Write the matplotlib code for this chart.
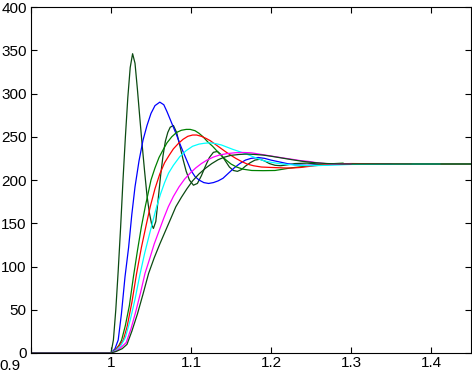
import matplotlib
matplotlib.use("Agg")
import matplotlib.pyplot as plt
from matplotlib.transforms import ScaledTranslation

# step responses (time, value)
t_dkgreen1 = [0.9, 1.000, 1.003, 1.006, 1.009, 1.012, 1.015, 1.018, 1.021, 1.024, 1.027,
              1.030, 1.033, 1.036, 1.039, 1.042, 1.045, 1.048, 1.051, 1.053, 1.056,
              1.059, 1.062, 1.065, 1.068, 1.071, 1.074, 1.078, 1.082, 1.086, 1.090,
              1.094, 1.098, 1.103, 1.108, 1.113, 1.118, 1.123, 1.128, 1.133, 1.138,
              1.143, 1.148, 1.153, 1.158, 1.163, 1.168, 1.174, 1.180, 1.186, 1.192,
              1.198, 1.205, 1.212, 1.220, 1.230, 1.245, 1.260, 1.450]
y_dkgreen1 = [0, 0, 15, 50, 95, 145, 200, 250, 295, 330, 346,
              335, 305, 272, 240, 210, 182, 162, 148, 144, 152,
              178, 205, 228, 245, 255, 261, 263, 255, 240, 224,
              210, 200, 194, 196, 205, 216, 226, 232, 233, 229,
              222, 215, 211, 210, 212, 216, 220, 223, 224, 222,
              219, 217, 216.5, 217.5, 219, 219.5, 218.5, 218.5]

t_blue = [0.9, 1.000, 1.005, 1.009, 1.013, 1.0175, 1.022, 1.026, 1.030, 1.035, 1.040,
          1.045, 1.050, 1.055, 1.061, 1.066, 1.070, 1.074, 1.078, 1.082, 1.086,
          1.090, 1.095, 1.100, 1.105, 1.110, 1.116, 1.122, 1.128, 1.134, 1.140,
          1.147, 1.154, 1.161, 1.168, 1.175, 1.184, 1.192, 1.200, 1.210, 1.220,
          1.230, 1.245, 1.260, 1.280, 1.350]
y_blue = [0, 0, 5, 15, 45, 88, 122, 160, 192, 222, 246,
          263, 277, 286, 290, 287, 279, 270, 261, 252, 242,
          233, 222, 211, 204, 200, 197, 196, 197, 199, 202,
          208, 214, 219, 223, 225, 226, 225, 223, 221, 219,
          217.5, 217, 217.5, 218, 218.5]

t_green = [0.9, 1.000, 1.005, 1.010, 1.0133, 1.018, 1.023, 1.028, 1.033, 1.038, 1.043,
           1.050, 1.055, 1.060, 1.064, 1.070, 1.076, 1.082, 1.088, 1.094, 1.099,
           1.105, 1.110, 1.115, 1.121, 1.127, 1.132, 1.138, 1.144, 1.150, 1.157,
           1.165, 1.176, 1.190, 1.205, 1.215, 1.225, 1.240, 1.255, 1.270, 1.290]
y_green = [0, 0, 3, 9, 15, 32, 55, 88, 118, 146, 170,
           200, 214, 226, 233, 243, 250, 255, 257.5, 258.5, 258.5,
           257, 254, 250, 244, 239, 234, 228, 223, 218.5, 215,
           212.5, 211, 210.8, 211, 212.5, 214, 215.5, 217, 218.5, 219.5]

t_red = [0.9, 1.000, 1.005, 1.010, 1.0154, 1.020, 1.026, 1.032, 1.038, 1.044, 1.049,
         1.055, 1.061, 1.067, 1.073, 1.078, 1.084, 1.090, 1.096, 1.102, 1.107,
         1.113, 1.119, 1.124, 1.130, 1.136, 1.142, 1.149, 1.156, 1.163, 1.170,
         1.178, 1.188, 1.200, 1.215, 1.225, 1.237, 1.250, 1.265, 1.280, 1.300, 1.375]
y_red = [0, 0, 3, 8, 15, 30, 58, 92, 122, 148, 169,
         190, 207, 220, 229, 236, 242, 247, 250.5, 252, 252,
         250.5, 248, 245.5, 241.5, 237.5, 233.5, 229, 225, 221.5, 218.5,
         216.5, 215, 214.5, 214, 213.8, 214.5, 216, 217.5, 218.5, 219, 218.5]

t_cyan = [0.9, 1.000, 1.006, 1.012, 1.018, 1.024, 1.030, 1.036, 1.042, 1.048, 1.053,
          1.057, 1.062, 1.067, 1.072, 1.078, 1.086, 1.094, 1.102, 1.110, 1.117,
          1.124, 1.131, 1.138, 1.145, 1.152, 1.160, 1.168, 1.176, 1.184, 1.192,
          1.200, 1.210, 1.220, 1.235, 1.250, 1.270, 1.300, 1.411]
y_cyan = [0, 0, 3, 8, 18, 38, 62, 90, 115, 137, 155,
          169, 184, 197, 208, 217, 227, 234, 239, 241.5, 242.5,
          243, 242, 240.5, 238, 235.5, 233, 230.5, 227.5, 224.5, 222,
          220.5, 219, 218, 217, 216.5, 217, 218, 218.5]

t_magenta = [0.9, 1.000, 1.006, 1.012, 1.019, 1.025, 1.031, 1.037, 1.0425, 1.048, 1.054,
             1.060, 1.066, 1.0716, 1.078, 1.085, 1.092, 1.099, 1.106, 1.113, 1.120,
             1.128, 1.136, 1.145, 1.155, 1.165, 1.175, 1.185, 1.195, 1.205, 1.215,
             1.226, 1.236, 1.247, 1.257, 1.268, 1.285, 1.300]
y_magenta = [0, 0, 2, 6, 12, 28, 48, 70, 92, 108, 126,
             141, 156, 169, 181, 192, 201, 208, 214, 219, 223,
             226.5, 229, 230.5, 231.5, 231.8, 231.5, 230, 228.5, 227, 225.5,
             224, 222.5, 221.5, 220, 219, 218.5, 218.5]

t_dkgreen2 = [0.9, 1.000, 1.007, 1.014, 1.020, 1.026, 1.033, 1.040, 1.047, 1.054, 1.061,
              1.068, 1.075, 1.081, 1.088, 1.095, 1.102, 1.110, 1.118, 1.126, 1.134,
              1.142, 1.150, 1.160, 1.170, 1.180, 1.190, 1.200, 1.213, 1.226, 1.240,
              1.255, 1.270, 1.290, 1.450]
y_dkgreen2 = [0, 0, 2, 5, 10, 25, 45, 68, 92, 110, 126,
              141, 156, 169, 180, 190, 199, 207, 213.5, 219, 223.5,
              226.5, 228.5, 229.5, 230, 229.5, 228.8, 227.5, 225.5, 223.5, 221.5,
              220, 219, 218.5, 218.5]

plt.rcParams['font.family'] = ['Liberation Sans', 'DejaVu Sans']

fig = plt.figure(figsize=(4.72, 3.72), dpi=100)
ax = fig.add_axes([31 / 472, 19 / 372, 440 / 472, 346 / 372])

ax.plot(t_dkgreen1, y_dkgreen1, color='#0b4a12', lw=0.9)
ax.plot(t_blue, y_blue, color='#0000ff', lw=0.9)
ax.plot(t_green, y_green, color='#008000', lw=0.9)
ax.plot(t_red, y_red, color='#ff0000', lw=0.9)
ax.plot(t_cyan, y_cyan, color='#00ffff', lw=0.9)
ax.plot(t_magenta, y_magenta, color='#ff00ff', lw=0.9)
ax.plot(t_dkgreen2, y_dkgreen2, color='#0b4a12', lw=0.9)

ax.set_xlim(0.9, 1.45)
ax.set_ylim(0, 400)
ax.set_xticks([0.9, 1.0, 1.1, 1.2, 1.3, 1.4])
ax.set_xticklabels(['0.9', '1', '1.1', '1.2', '1.3', '1.4'])
ax.set_yticks(range(0, 401, 50))
ax.tick_params(direction='in', length=4, width=0.8, top=True, right=True,
               labelsize=11, pad=3)
ax.tick_params(axis='x', pad=2)
for s in ax.spines.values():
    s.set_linewidth(0.8)

# first x label sits left of (and just under) its tick in the original
lbl = ax.get_xticklabels()[0]
lbl.set_transform(lbl.get_transform() + ScaledTranslation(-0.21, -0.03, fig.dpi_scale_trans))

fig.savefig("out.png", dpi=100)
